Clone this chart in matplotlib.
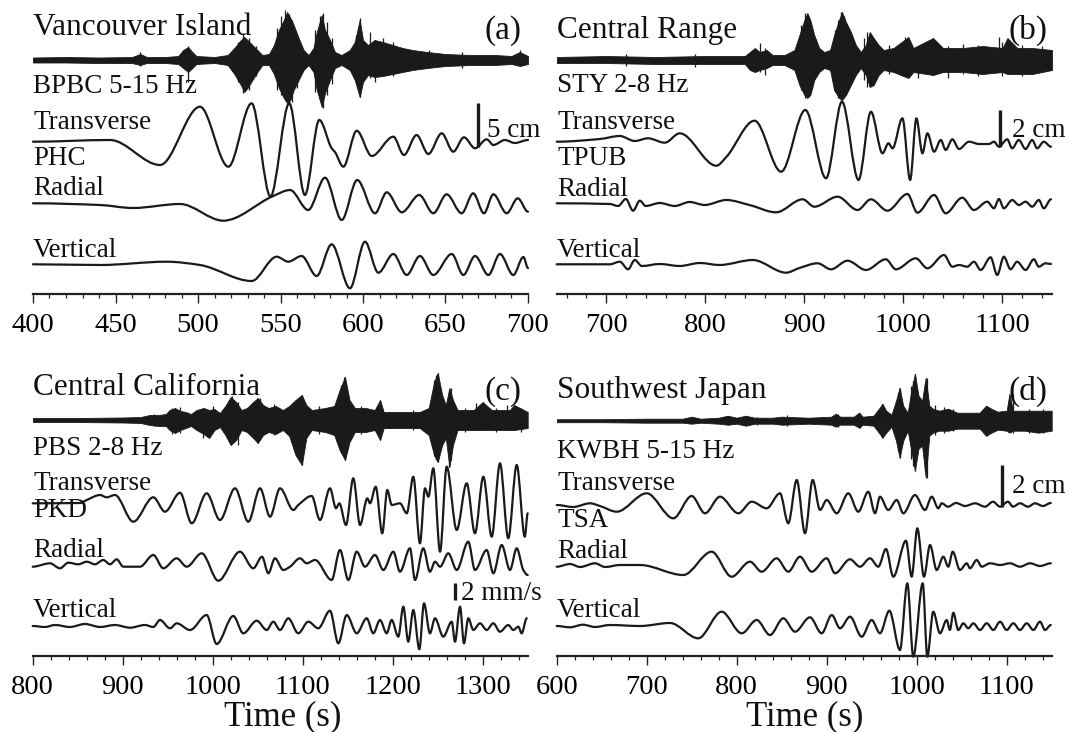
import numpy as np
import matplotlib
matplotlib.use("Agg")
import matplotlib.pyplot as plt
from matplotlib.path import Path
from matplotlib.patches import PathPatch
from matplotlib.ticker import MultipleLocator

plt.rcParams['font.family'] = ['Liberation Serif', 'DejaVu Serif']

# ---------------- Panel (a) Vancouver Island ----------------
a_trem_t = [400, 420, 440, 460, 465, 469, 480, 488, 491, 494, 496, 499, 510, 518, 522, 526, 528, 530, 533, 536, 539,
            543, 546, 549, 552, 554, 556, 558, 561, 564, 567, 570, 572, 575, 577, 580, 583, 587, 592, 595, 598, 600,
            603, 607, 612, 618, 624, 630, 639, 650, 665, 680, 690, 695, 700]
a_trem_up = [2.5, 3, 2.5, 3, 6, 3, 3, 4, 10, 13, 9, 4, 3, 5, 12, 20, 23, 20, 15, 10, 5,
             6, 15, 30, 40, 48, 42, 35, 22, 10, 5, 12, 28, 45, 30, 20, 8, 5, 10, 18, 40, 20,
             15, 20, 18, 15, 12, 10, 8, 6, 5, 5, 4, 8, 4]
a_trem_dn = [-2.5, -2.5, -3, -3, -5, -3, -3, -4, -8, -12, -9, -4, -3, -5, -14, -25, -32, -28, -20, -12, -5,
             -5, -14, -28, -38, -43, -40, -30, -20, -10, -5, -12, -30, -47, -33, -20, -8, -5, -10, -20, -37, -22,
             -15, -17, -16, -14, -12, -10, -8, -6, -5, -5, -4, -6, -4]
a_spk_t = [465, 494, 524, 527, 531, 535, 548, 550, 553, 555, 557, 560, 571, 574, 576, 578, 581, 596, 598, 604, 607,
           612, 618, 640, 660, 695]
a_spk_up = [8, 14, 18, 27, 22, 14, 32, 44, 50, 46, 40, 25, 30, 44, 47, 38, 22, 25, 42, 28, 20, 22, 18, 10, 8, 10]
a_spk_dn = [-6, -22, -22, -33, -30, -16, -30, -35, -40, -45, -42, -28, -32, -40, -48, -35, -24, -22, -37, -18, -22,
            -12, -16, -6, -8, -6]
a_tran_t = [400, 446.7, 477.0, 501.2, 518.4, 532.5, 543.9, 555.3, 564.8, 573.5, 581.0, 583.0, 588.1, 596.2, 605.3,
            618.4, 624.8, 632.5, 639.6, 647.7, 654.7, 661.2, 667.9, 675.0, 679.0, 686, 692, 700]
a_tran_a = [-1.7, 0, -25, 33.3, -26.7, 36.7, -56.5, 36.7, -55, 20, -8.3, -12, -26.7, 9.3, -16,
            3.3, -15, 5, -14, 6.7, -11.7, 2.7, -8.3, 0.7, -5, 0, -3, 0]
a_rad_t = [400, 440.6, 460.6, 489.1, 515.3, 545.6, 555.8, 566.8, 577.0, 587.1, 596.5, 607.3, 614.4, 623.5, 634.1,
           642.6, 650.7, 659.8, 666.8, 673.3, 679.0, 687.1, 693.8, 700]
a_rad_a = [-0.3, -2, -5, -1, -17.7, 7, 13, -7, 25.3, -17, 23, -10.3, 10.7, -9.3, 8,
           -10.3, 8.7, -10.3, 9.7, -10.3, 8.7, -10.3, 4.7, -8.7]
a_ver_t = [400, 440.6, 481.0, 501.2, 532.5, 547.7, 554.7, 562.8, 571.9, 581.0, 592.1, 601.2, 609.3, 618.4, 626.5,
           634.5, 642.6, 653.8, 660.8, 667.9, 676.0, 683.0, 691.1, 697.2, 700]
a_ver_a = [-0.3, -1, 2.3, -1, -17, 7.3, 2.3, 8, -12, 19.7, -24.3, 22.3, -8.7, 10, -11,
           8, -11, 10, -11, 8, -11, 10, -11, 7, -4]

# ---------------- Panel (b) Central Range ----------------
b_trem_t = [650, 700, 750, 800, 840, 845, 850, 855, 862, 868, 880, 890, 895, 900, 903, 906, 910, 915, 920, 926, 930,
            935, 938, 942, 947, 952, 957, 962, 966, 970, 975, 980, 990, 1005, 1010, 1030, 1040, 1060, 1080, 1100,
            1105, 1115, 1130, 1150]
b_trem_up = [3, 4, 3, 4, 4, 8, 12, 8, 10, 5, 5, 10, 25, 40, 47, 40, 25, 12, 8, 10, 25,
             40, 48, 38, 28, 15, 8, 15, 28, 22, 15, 10, 12, 23, 12, 22, 12, 12, 14, 12,
             22, 12, 12, 10]
b_trem_dn = [-3, -3, -4, -4, -4, -10, -12, -10, -8, -5, -5, -10, -25, -35, -38, -35, -20, -12, -8, -10, -30,
             -38, -40, -35, -25, -15, -8, -15, -27, -25, -15, -10, -12, -18, -12, -15, -12, -12, -14, -12,
             -14, -14, -14, -10]
b_spk_t = [720, 790, 855, 860, 897, 901, 904, 908, 931, 934, 937, 940, 944, 960, 963, 967, 985, 1002, 1015, 1029,
           1045, 1060, 1075, 1096, 1100, 1120, 1140]
b_spk_up = [6, 6, 17, 12, 35, 47, 42, 30, 30, 40, 48, 44, 30, 22, 28, 24, 15, 23, 14, 20, 14, 16, 15, 23, 18, 15, 14]
b_spk_dn = [-6, -7, -12, -15, -30, -38, -35, -28, -30, -38, -40, -36, -28, -20, -27, -24, -14, -15, -18, -14,
            -18, -14, -16, -12, -16, -16, -12]
b_tran_t = [650, 693.6, 713.7, 728.8, 742.2, 759.1, 774.2, 811.1, 821.2, 849.7, 876.6, 901.0, 921.9, 938.0, 954.7,
            967.2, 978.9, 984.9, 989.0, 999.0, 1006.8, 1013.1, 1019.2, 1024.2, 1031.0, 1037.7, 1042.7, 1049.4,
            1056.1, 1066.2, 1076.3, 1086.3, 1091.4, 1096.4, 1104.8, 1109.8, 1116.5, 1123.3, 1130.0, 1135.0,
            1141.7, 1149]
b_tran_a = [-1.7, 1, 4, -1, 1.7, -2.7, 6.7, -25.7, -17, 19.3, -31.7, 30, -38.3, 38.3, -40,
            28.3, -13.3, -3.3, -8.3, 21.7, -40, 21.7, -13.3, 6.7, -11.7, 0, -10, 0.7,
            -9, -1.7, -4, -4, -1.7, -6.7, 0.7, -8.3, 0, -9, 0, -8.3,
            -1.7, -6.7]
b_rad_t = [650, 703.7, 712.0, 719.8, 727.1, 733.9, 739.9, 754.0, 769.1, 784.2, 799.3, 821.2, 844.6, 871.5, 898.3,
           910.1, 933.6, 953.7, 967.2, 983.9, 1004.1, 1014.1, 1031.0, 1042.7, 1059.4, 1071.2, 1084.6, 1091.4,
           1096.4, 1101.4, 1109.8, 1116.5, 1123.3, 1130.0, 1136.7, 1141.7, 1149]
b_rad_a = [-0.3, -1, -3, 4, -7.7, 2.3, -3, 0, -3, 1, -2, 3, -2, -9.3, 3.7,
           -3.7, 6.3, -7, 3.7, -7.7, 9, -9.7, 8, -10.3, 5.3, -7, 1.3, -5.3,
           4, -5.3, 3, -2, 1.3, -3.7, 3, -5.3, 3.7]
b_ver_t = [650, 703.7, 713.7, 722.1, 728.8, 735.9, 754.0, 774.2, 794.4, 814.5, 848.0, 881.6, 895.0, 913.4, 926.9,
           943.6, 962.2, 982.3, 992.4, 1012.5, 1024.2, 1041.0, 1049.4, 1056.1, 1064.5, 1071.2, 1078.0, 1088.0,
           1094.7, 1101.4, 1108.2, 1114.8, 1123.3, 1131.7, 1136.7, 1143.4, 1149]
b_ver_a = [-0.3, -0.3, 2.3, -5.3, 4, -2, 0, -2, 1, -1, 4, -8.7, -4, 0.7, -5.3,
           3.3, -6, 4.7, -5.3, 5.7, -4.3, 9, -2.7, -1, -2.7, 2.3, -6, 6.7,
           -11, 7.3, -5.3, 2.3, -6, 4.7, -2.7, 0.7, 0]

# ---------------- Panel (c) Central California ----------------
c_trem_t = [800, 850, 900, 920, 930, 940, 948, 952, 958, 964, 970, 976, 982, 990, 996, 1002, 1008, 1014, 1020, 1026,
            1032, 1038, 1045, 1050, 1056, 1062, 1070, 1078, 1085, 1092, 1099, 1104, 1110, 1125, 1135, 1141, 1147,
            1152, 1158, 1170, 1180, 1186, 1190, 1210, 1230, 1240, 1246, 1250, 1255, 1259, 1263, 1267, 1272, 1290,
            1300, 1310, 1330, 1335, 1350]
c_trem_up = [2, 2, 2.5, 3, 5, 5, 6, 10, 12, 9, 8, 6, 10, 12, 10, 11, 7, 14, 23, 18,
             10, 12, 18, 22, 15, 12, 14, 10, 14, 20, 25, 15, 10, 12, 14, 30, 43,
             20, 12, 12, 10, 20, 8, 8, 8, 12, 38, 47, 25, 15, 32, 20, 10, 10,
             18, 10, 10, 15, 8]
c_trem_dn = [-2, -2, -2.5, -3, -5, -6, -6, -10, -13, -10, -8, -6, -10, -14, -18, -10, -7, -15, -25, -20,
             -10, -12, -18, -23, -15, -12, -14, -10, -16, -35, -45, -18, -10, -12, -15, -30, -40,
             -22, -12, -12, -10, -20, -8, -8, -8, -15, -35, -42, -25, -18, -47, -25, -10, -10,
             -10, -10, -10, -10, -8]
c_spk_t = [935, 955, 963.7, 989, 1000, 1018, 1021, 1028, 1047, 1050, 1053, 1068, 1095, 1097, 1099, 1118, 1143, 1145.5,
           1147, 1165, 1186, 1222, 1246, 1248, 1250, 1262, 1263, 1265, 1280, 1293, 1315, 1327, 1342]
c_spk_up = [6, 12, 13, 12, 14, 20, 24, 18, 18, 22, 22, 16, 20, 22, 25, 14, 35, 43, 40, 14, 20, 10, 40, 45, 47, 25,
            30, 32, 12, 17, 12, 15, 12]
c_spk_dn = [-6, -14, -13, -18, -12, -22, -22, -25, -18, -23, -20, -15, -30, -40, -45, -14, -32, -35, -40, -14, -20,
            -10, -36, -40, -42, -38, -47, -40, -12, -10, -12, -10, -12]
c_tran_t = [800, 852.6, 860, 874.8, 882.2, 891.4, 911.8, 934.0, 947.0, 963.7, 976.7, 993.3, 1008.1, 1024.8, 1039.6,
            1052.6, 1063.7, 1074.8, 1089.6, 1095.1, 1110.0, 1119.2, 1130.3, 1137.0, 1140.7, 1148.1, 1156.2, 1163.7,
            1171.8, 1174.8, 1181.1, 1188.4, 1194.0, 1198.9, 1208.1, 1215.6, 1222.9, 1230.3, 1235.9, 1239.6,
            1245.1, 1252.6, 1260.0, 1271.1, 1282.2, 1291.4, 1300.7, 1310.0, 1319.2, 1328.4, 1337.8, 1346.8, 1350]
c_tran_a = [-0.3, 0, 3, 8, 5.7, 8, -18.7, 5.7, -8.7, 10.3, -20.3, 9.7, -17, 14.7, -18.7,
            14.7, -13.7, 14.7, -7, -2, 7, -17, 14.7, -5.3, -0.3, -22, 24.7, -22,
            4.7, -0.3, 16.3, -30.3, 13, -2, -0.3, -10.3, 26.3, -40.3, 14.7, 6.3,
            34.7, -48.7, 36.3, -27, 19.7, -30.3, 26.3, -33.7, 39.7, -35.3, 38, -33.7, -10.3]
c_rad_t = [800, 819.2, 830.3, 839.6, 850.7, 860, 869.2, 878.4, 885.9, 893.3, 900.7, 919.2, 934.0, 945.1, 960.0,
           971.1, 987.8, 1006.2, 1030.3, 1045.1, 1054.8, 1061.8, 1069.2, 1078.4, 1085.9, 1097.0, 1104.4, 1113.7,
           1132.2, 1141.4, 1150.7, 1160.0, 1169.2, 1180.3, 1189.6, 1200.7, 1208.1, 1219.2, 1224.8, 1234.0,
           1241.4, 1247.0, 1252.6, 1261.8, 1271.1, 1284.0, 1291.4, 1304.4, 1311.8, 1321.1, 1330.3, 1337.8,
           1345.1, 1350]
c_rad_a = [0.3, 3.7, -1.3, 4.3, 2.7, 5.3, 2.7, 7, 2.7, 7.7, 0.3, 0.3, 12, -1.3, 8.7,
           0.3, 13.7, -13.7, 15.3, -1.3, 10.3, -6.3, 8.7, -3, 0.3, 8.7, 3.7, 7,
           -13, 17, -13, 15.3, 0.3, 12, -3, 15.3, -4.7, 18.7, -13, 18.7,
           -4.7, 5.3, 0.3, 13.7, -3, 25.3, -3, 17, -6.3, 22, -3, 18.7,
           -3, -8]
c_ver_t = [800, 813.7, 824.8, 841.4, 858.1, 874.8, 891.4, 908.1, 924.8, 934, 941.4, 952.6, 960.0, 974.8, 993.3,
           1004.4, 1022.9, 1034.0, 1048.9, 1060, 1067.3, 1074.8, 1084.0, 1095.1, 1106.2, 1117.3, 1130.3, 1139.6,
           1148.9, 1160.0, 1171.1, 1178.4, 1185.9, 1193.3, 1198.9, 1206.2, 1211.8, 1217.3, 1222.9, 1229.6,
           1234.8, 1241.4, 1247.0, 1256.2, 1265.6, 1269.2, 1274.8, 1279.2, 1284.0, 1289.6, 1297.0, 1304.4,
           1311.8, 1319.2, 1328.4, 1334.0, 1339.6, 1343.3, 1348.9]
c_ver_a = [0, -1, 1, -1, 2, -1, 1, -1.7, 1, -1, 6, -2.3, 2.7, -4, 11,
           -18, 10, -7.3, 5.3, -4, 4.3, -4, 7.7, -7.3, 4.3, -2.3, 15.3, -17.3,
           11, -7.3, 7.7, -7.3, 6, -7.3, 6, -10.7, 19.3, -15.7, 16, -23.3,
           22.7, -7.3, 7.7, -10.7, 4.3, -15.7, 19.3, -17.3, 7.7, -4, 2.7, -4,
           2.7, -5.7, 1, -4, -0.7, -7.3, 7.7]

# ---------------- Panel (d) Southwest Japan ----------------
d_trem_t = [600, 650, 700, 740, 750, 760, 780, 790, 800, 810, 820, 840, 850, 880, 905, 910, 915, 930, 936, 940, 952,
            958, 962, 966, 972, 977, 981, 985, 990, 994, 998, 1002, 1006, 1010, 1014, 1018, 1025, 1035, 1045,
            1055, 1070, 1077, 1083, 1090, 1100, 1103, 1107, 1120, 1135, 1150]
d_trem_up = [1.5, 1.5, 2, 2, 4, 2, 3, 5, 3, 5, 3, 3, 4, 3, 4, 7, 4, 4, 8, 4, 5,
             12, 17, 10, 6, 20, 33, 15, 8, 30, 47, 25, 20, 43, 15, 12, 10, 12, 8,
             8, 8, 15, 12, 9, 10, 27, 10, 10, 10, 10]
d_trem_dn = [-1.5, -1.5, -2, -2, -3, -2, -3, -4, -3, -5, -3, -3, -4, -3, -4, -6, -4, -4, -7, -4, -5,
             -12, -17, -12, -6, -20, -37, -20, -10, -30, -50, -28, -25, -57, -15, -12, -10, -10, -8,
             -8, -8, -15, -12, -9, -10, -12, -10, -10, -12, -10]
d_spk_t = [790, 822, 855.6, 912, 937, 961, 963, 979, 981.4, 994, 996, 998, 1009, 1011, 1020, 1030, 1040, 1078,
           1107.4, 1125, 1140]
d_spk_up = [5, 4, 6, 7, 8, 17, 14, 28, 33, 35, 40, 47, 38, 43, 16, 14, 12, 15, 27, 12, 12]
d_spk_dn = [-4, -4, -5, -6, -7, -17, -14, -30, -37, -38, -45, -50, -50, -57, -14, -12, -10, -15, -12, -12, -12]
d_tran_t = [600, 618.4, 637.0, 648.1, 666.7, 700.0, 729.6, 750.0, 764.8, 781.4, 801.8, 816.7, 833.3, 848.1, 857.3,
            866.7, 875.9, 884.4, 892.6, 900.0, 911.1, 924.0, 935.1, 946.2, 953.7, 959.2, 968.4, 977.8, 985.1,
            998.1, 1009.2, 1016.7, 1024.0, 1027.8, 1034.8, 1043.7, 1053.7, 1064.8, 1075.9, 1084.8, 1092.6,
            1101.4, 1107.0, 1114.8, 1123.7, 1131.4, 1140.3, 1149]
d_tran_a = [0, -2, 1.7, -1, -6.7, 11.7, -13.3, 9, -8.3, 8.3, -8.3, 3.3, -3.3, 11.7, -18.3,
            25, -28.3, 25, -5, 5, -8.3, 11.7, -6.7, 13.3, -8.3, 8.3, -5, 5, -8.3,
            10, -5, 8.3, -3.3, 1.7, -1.7, 2, -1, 1.7, -1.7, 3.3, -1.7,
            3.3, -1.7, 1.7, -1.7, 1.7, -1, 2]
d_rad_t = [600, 614.8, 625.9, 642.6, 653.7, 670.4, 692.6, 740.7, 772.2, 794.4, 814.8, 827.8, 844.4, 857.3, 870.3,
           883.3, 900.0, 909.2, 925.9, 937.0, 948.1, 957.3, 965.9, 974.0, 988.1, 994.4, 1000.7, 1008.1, 1014.8,
           1022.2, 1029.6, 1035.1, 1040.0, 1048.1, 1055.6, 1059.2, 1066.7, 1072.2, 1081.5, 1092.6, 1103.7,
           1114.8, 1125.9, 1137.0, 1149]
d_rad_a = [-0.7, 2, -1, 2.7, -1, 1, 1, -9, 14.3, -10.7, 4.3, -5.7, 7.7, -5.7, 9.3,
           -5.7, 7.7, -7.3, 6.7, -0.7, 7.7, -0.7, 17, -10.7, 25.3, -10.7, 37.7, -10.7, 21,
           -4, 9.3, -0.7, 14.3, -4, 2.7, -2.3, 6, -0.7, 2.7, 1, 2.7,
           -0.7, 2.7, 0, 2.7]
d_ver_t = [600, 614.8, 629.2, 642.6, 659.2, 692.6, 725.9, 757.3, 783.3, 805.6, 822.2, 837.0, 851.8, 864.8, 881.4,
           894.4, 905.6, 914.8, 925.9, 938.9, 950.0, 959.2, 969.6, 981.4, 989.6, 996.2, 1006.7, 1011.8, 1018.4,
           1025.9, 1033.3, 1036.9, 1040.7, 1046.2, 1051.8, 1057.3, 1062.9, 1070.3, 1077.8, 1085.1, 1092.6,
           1100, 1107.3, 1114.8, 1122.2, 1129.6, 1137, 1142.6, 1149]
d_ver_a = [0, -1.3, 1.3, -1, 1, 0, 3, -12.3, 14.3, -7.3, 6, -9, 7.7, -5.7, 8.7,
           -7.3, 11, -2.3, 9.3, -10.7, 6, -7.3, 15.3, -24, 42.7, -30.7, 42.7, -30.7, 14.3,
           -7.3, 6, -4, 13.3, -4, 2.7, -2.3, 2.7, -4, 2.7, -4, 4.3,
           -4, 2.7, -4, 2.7, -4, 4.3, -4, 1]

W, H = 1071, 732
fig = plt.figure(figsize=(W / 100, H / 100), dpi=100)
fig.patch.set_facecolor('white')

LW = 1.6
INK = '#1a1a1a'


def smooth_trace(ax, t, a, base):
    t = np.asarray(t, float)
    y = np.asarray(a, float) + base
    n = len(t)
    d = np.diff(y) / np.diff(t)
    m = np.zeros(n)
    for i in range(1, n - 1):
        if d[i - 1] * d[i] > 0:
            m[i] = 2.0 / (1.0 / d[i - 1] + 1.0 / d[i])
    verts = [(t[0], y[0])]
    codes = [Path.MOVETO]
    for i in range(1, n):
        h = t[i] - t[i - 1]
        verts += [(t[i - 1] + h / 3, y[i - 1] + m[i - 1] * h / 3),
                  (t[i] - h / 3, y[i] - m[i] * h / 3),
                  (t[i], y[i])]
        codes += [Path.CURVE4] * 3
    ax.add_patch(PathPatch(Path(verts, codes), fill=False, lw=LW, ec=INK,
                           capstyle='round', joinstyle='round', clip_on=False))


def tremor(ax, t, up, dn, st, sup, sdn, base):
    t = np.asarray(t, float)
    ax.fill_between(t, base + np.asarray(up), base + np.asarray(dn), color=INK, lw=0.6, ec=INK)
    ax.vlines(st, base + np.asarray(sdn), base + np.asarray(sup), color=INK, lw=0.9)


def make_axes(x0, x1, yspine, ytop, tmin, tmax, major, minor):
    ax = fig.add_axes([x0 / W, (H - yspine) / H, (x1 - x0) / W, (yspine - ytop) / H])
    ax.set_xlim(tmin, tmax)
    ax.set_ylim(0, yspine - ytop)
    for s in ['top', 'left', 'right']:
        ax.spines[s].set_visible(False)
    ax.spines['bottom'].set_linewidth(1.6)
    ax.spines['bottom'].set_color('#222222')
    ax.set_yticks([])
    ax.xaxis.set_major_locator(MultipleLocator(major))
    ax.xaxis.set_minor_locator(MultipleLocator(minor))
    ax.tick_params(axis='x', which='major', direction='out', length=6.5, width=1.0,
                   labelsize=20.5, pad=7, color='#222222')
    ax.tick_params(axis='x', which='minor', direction='out', length=3.0, width=0.9, color='#222222')
    ax.patch.set_alpha(0)
    return ax


def ftext(x, y, s, size=19.5, ha='left'):
    fig.text(x / W, (H - y) / H, s, fontsize=size, ha=ha, va='baseline', color='#111111')


def scalebar(ax, t, y0, y1):
    ax.plot([t, t], [y0, y1], color=INK, lw=2.4, solid_capstyle='butt', clip_on=False)


# ---- (a)
ax = make_axes(33, 528, 294, 0, 400, 700, 50, 10)
tremor(ax, a_trem_t, a_trem_up, a_trem_dn, a_spk_t, a_spk_up, a_spk_dn, 234)
smooth_trace(ax, a_tran_t, a_tran_a, 154)
smooth_trace(ax, a_rad_t, a_rad_a, 91)
smooth_trace(ax, a_ver_t, a_ver_a, 30)
scalebar(ax, 670, 154 - 6.7, 154 + 36.7)
ftext(33, 35, 'Vancouver Island', 22.5)
ftext(522, 39, '(a)', 24, 'right')
ftext(33, 93, 'BPBC 5-15 Hz')
ftext(33, 129, 'Transverse')
ftext(33, 165, 'PHC')
ftext(33, 195, 'Radial')
ftext(33, 257, 'Vertical')
ftext(487, 137, '5 cm')

# ---- (b)
ax = make_axes(556.7, 1052, 294, 0, 650, 1150, 100, 20)
tremor(ax, b_trem_t, b_trem_up, b_trem_dn, b_spk_t, b_spk_up, b_spk_dn, 234)
smooth_trace(ax, b_tran_t, b_tran_a, 154)
smooth_trace(ax, b_rad_t, b_rad_a, 91)
smooth_trace(ax, b_ver_t, b_ver_a, 30)
scalebar(ax, 1098, 154 - 6.7, 154 + 30)
ftext(557, 38, 'Central Range', 22.5)
ftext(1047, 39, '(b)', 24, 'right')
ftext(557, 92, 'STY 2-8 Hz')
ftext(557, 129, 'Transverse')
ftext(557, 165, 'TPUB')
ftext(557, 196, 'Radial')
ftext(557, 257, 'Vertical')
ftext(1012, 137, '2 cm')

# ---- (c)
ax = make_axes(32.7, 527.7, 656, 370, 800, 1350, 100, 20)
tremor(ax, c_trem_t, c_trem_up, c_trem_dn, c_spk_t, c_spk_up, c_spk_dn, 236)
smooth_trace(ax, c_tran_t, c_tran_a, 153)
smooth_trace(ax, c_rad_t, c_rad_a, 89)
smooth_trace(ax, c_ver_t, c_ver_a, 30)
scalebar(ax, 1269, 89 - 33, 89 - 16)
ftext(33, 395, 'Central California', 22.5)
ftext(522, 400, '(c)', 24, 'right')
ftext(33, 455, 'PBS 2-8 Hz')
ftext(33, 490, 'Transverse')
ftext(33, 517, 'PKD')
ftext(33, 557, 'Radial')
ftext(33, 617, 'Vertical')
ftext(461, 600, '2 mm/s')
ftext(283, 725, 'Time (s)', 25, 'center')

# ---- (d)
ax = make_axes(556.7, 1051.7, 656, 370, 600, 1150, 100, 20)
tremor(ax, d_trem_t, d_trem_up, d_trem_dn, d_spk_t, d_spk_up, d_spk_dn, 235.3)
smooth_trace(ax, d_tran_t, d_tran_a, 151)
smooth_trace(ax, d_rad_t, d_rad_a, 90)
smooth_trace(ax, d_ver_t, d_ver_a, 30)
scalebar(ax, 1094.4, 151 - 1.7, 151 + 40)
ftext(557, 398, 'Southwest Japan', 22.5)
ftext(1047, 400, '(d)', 24, 'right')
ftext(557, 458, 'KWBH 5-15 Hz')
ftext(557, 490, 'Transverse')
ftext(557, 527, 'TSA')
ftext(557, 558, 'Radial')
ftext(557, 617, 'Vertical')
ftext(1012, 493, '2 cm')
ftext(805, 725, 'Time (s)', 25, 'center')

fig.savefig('out.png', dpi=100, facecolor='white')
